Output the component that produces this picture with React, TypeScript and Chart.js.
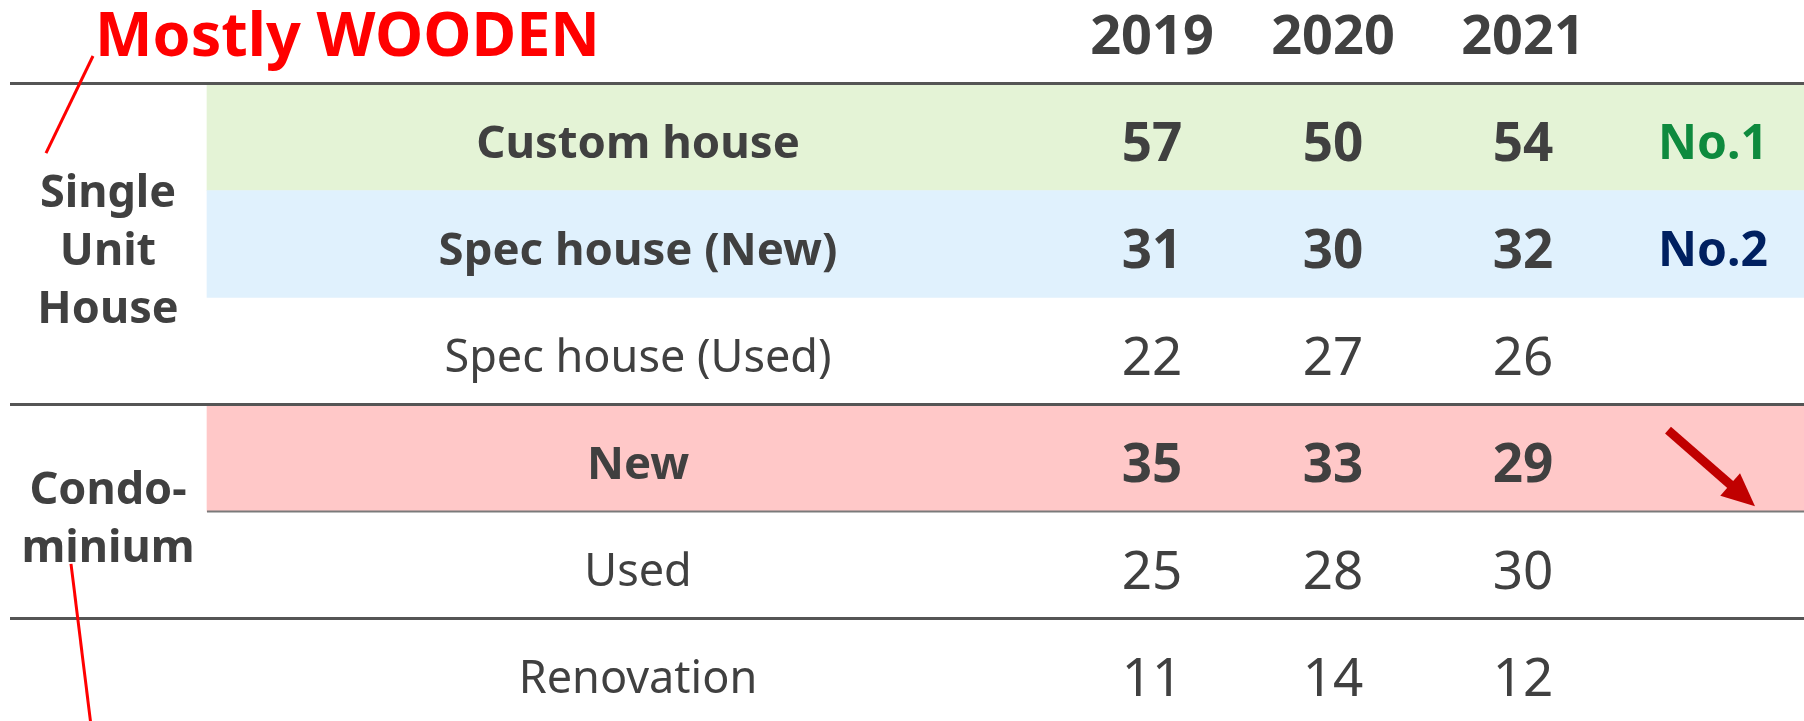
import React, { useEffect, useRef } from "react";
import { Chart, registerables } from "chart.js";

Chart.register(...registerables);

// ---------- data ----------
const titleText = "Mostly WOODEN";
const yearLabels = ["2019", "2020", "2021"];
const rowLabels = ["Custom house", "Spec house (New)", "Spec house (Used)", "New", "Used", "Renovation"];
const values2019 = [57, 31, 22, 35, 25, 11];
const values2020 = [50, 30, 27, 33, 28, 14];
const values2021 = [54, 32, 26, 29, 30, 12];
const boldRows = [true, true, false, true, false, false];
const rankLabels = ["No.1", "No.2", "", "", "", ""];
const groupSingle = ["Single", "Unit", "House"];
const groupCondo = ["Condo-", "minium"];
const highlightedRows = [0, 1, 3];

// ---------- layout / style ----------
const W = 1804;
const H = 721;
const ROW_PX = 107;
const ROW0_CENTER = 137;
const Y_MIN = -ROW0_CENTER / ROW_PX;
const Y_MAX = Y_MIN + H / ROW_PX;
const COL_GROUP = 108;
const COL_LABEL = 638;
const COL_YEARS = [1152, 1333, 1523];
const COL_RANK = 1713;
const BAND_START = 207;
const BAND_END = W;
const TEXT_SHIFT = 5;
const CAP = 0.714;
const FONT = '"Noto Sans", "Open Sans", sans-serif';
const TEXT = "#404040";
const bandColors = ["#E4F3D6", "#E0F1FD", "#FFC8C8"];
const rankColors = ["#0E8A3E", "#002060"];

const font = (w: string | number, s: number) => `${w} ${s}px ${FONT}`;

const tablePlugin = {
  id: "tableText",
  afterDatasetsDraw(chart: any) {
    const { ctx } = chart;
    const xs = chart.scales.x;
    const ys = chart.scales.y;
    const px = (v: number) => xs.getPixelForValue(v);
    const py = (v: number) => ys.getPixelForValue(v);
    ctx.save();

    // separator lines
    const hline = (row: number, x0: number, x1: number, w: number, c: string) => {
      ctx.beginPath();
      ctx.strokeStyle = c;
      ctx.lineWidth = w;
      ctx.moveTo(px(x0), py(row));
      ctx.lineTo(px(x1), py(row));
      ctx.stroke();
    };
    hline(-0.5, 10, W, 3, "#555555");
    hline(2.5, 10, W, 3, "#555555");
    hline(3.5, BAND_START, W, 2, "#7a7a7a");
    hline(4.5, 10, W, 3, "#555555");

    const textAt = (t: string, x: number, yPix: number, size: number, weight: string, color: string, align: CanvasTextAlign = "center", capSize?: number) => {
      ctx.font = font(weight, size);
      ctx.fillStyle = color;
      ctx.textAlign = align;
      ctx.textBaseline = "alphabetic";
      ctx.fillText(t, x, yPix + TEXT_SHIFT + ((capSize ?? size) * CAP) / 2);
    };

    // title
    textAt(titleText, px(95), py(-1), 61, "bold", "#FF0000", "left", 58);

    // year headers
    yearLabels.forEach((yl, j) => textAt(yl, px(COL_YEARS[j]), py(-1), 54, "bold", TEXT));

    // rows
    const series = [values2019, values2020, values2021];
    rowLabels.forEach((lab, i) => {
      const w = boldRows[i] ? "bold" : "normal";
      textAt(lab, px(COL_LABEL), py(i), boldRows[i] ? 45.5 : 45, w, TEXT);
      series.forEach((s, j) => textAt(String(s[i]), px(COL_YEARS[j]), py(i), 53, w, TEXT));
      if (rankLabels[i]) textAt(rankLabels[i], px(COL_RANK), py(i), 48, "bold", rankColors[i]);
    });

    // group labels
    const group = (lines: string[], row: number) => {
      const lh = 58;
      lines.forEach((l, k) => {
        textAt(l, px(COL_GROUP), py(row) + (k - (lines.length - 1) / 2) * lh, 45, "bold", TEXT);
      });
    };
    group(groupSingle, 1);
    group(groupCondo, 3.5);

    // red annotation lines
    const seg = (x0: number, r0: number, x1: number, r1: number) => {
      ctx.beginPath();
      ctx.strokeStyle = "#FF0000";
      ctx.lineWidth = 3;
      ctx.moveTo(px(x0), py(r0));
      ctx.lineTo(px(x1), py(r1));
      ctx.stroke();
    };
    seg(93, -0.757, 46, 0.15);
    seg(71, 3.99, 91, 5.5);

    // down arrow
    const sx = px(1668), sy = py(2.74), tx = px(1755), ty = py(3.45);
    const dx = tx - sx, dy = ty - sy;
    const len = Math.hypot(dx, dy);
    const ux = dx / len, uy = dy / len;
    const headLen = 33, headHalf = 15;
    const bx = tx - ux * headLen, by = ty - uy * headLen;
    ctx.strokeStyle = "#C00000";
    ctx.fillStyle = "#C00000";
    ctx.lineWidth = 9;
    ctx.lineCap = "butt";
    ctx.beginPath();
    ctx.moveTo(sx, sy);
    ctx.lineTo(bx + ux * 2, by + uy * 2);
    ctx.stroke();
    ctx.beginPath();
    ctx.moveTo(tx, ty);
    ctx.lineTo(bx - uy * headHalf, by + ux * headHalf);
    ctx.lineTo(bx + uy * headHalf, by - ux * headHalf);
    ctx.closePath();
    ctx.fill();

    ctx.restore();
  },
};

export default function App() {
  const ref = useRef<HTMLCanvasElement | null>(null);
  useEffect(() => {
    if (!ref.current) return;
    const chart = new Chart(ref.current, {
      type: "bar",
      data: {
        datasets: [
          {
            data: highlightedRows.map((r) => ({ y: r, x: [BAND_START, BAND_END] })) as any,
            backgroundColor: bandColors,
            borderWidth: 0,
            barPercentage: 1,
            categoryPercentage: 1,
          },
        ],
      },
      options: {
        indexAxis: "y",
        animation: false,
        responsive: false,
        maintainAspectRatio: false,
        layout: { padding: 0 },
        plugins: { legend: { display: false }, tooltip: { enabled: false } },
        scales: {
          x: { type: "linear", min: 0, max: W, display: false, offset: false },
          y: {
            type: "linear",
            min: Y_MIN,
            max: Y_MAX,
            reverse: true,
            display: false,
            offset: false,
            grid: { offset: false },
            ticks: { stepSize: 1, includeBounds: false },
          },
        },
      },
      plugins: [tablePlugin],
    });
    return () => chart.destroy();
  }, []);
  return (
    <div style={{ position: "fixed", left: 0, top: 0, width: W, height: H, background: "#fff" }}>
      <canvas ref={ref} width={W} height={H} style={{ width: W, height: H, display: "block" }} />
    </div>
  );
}
